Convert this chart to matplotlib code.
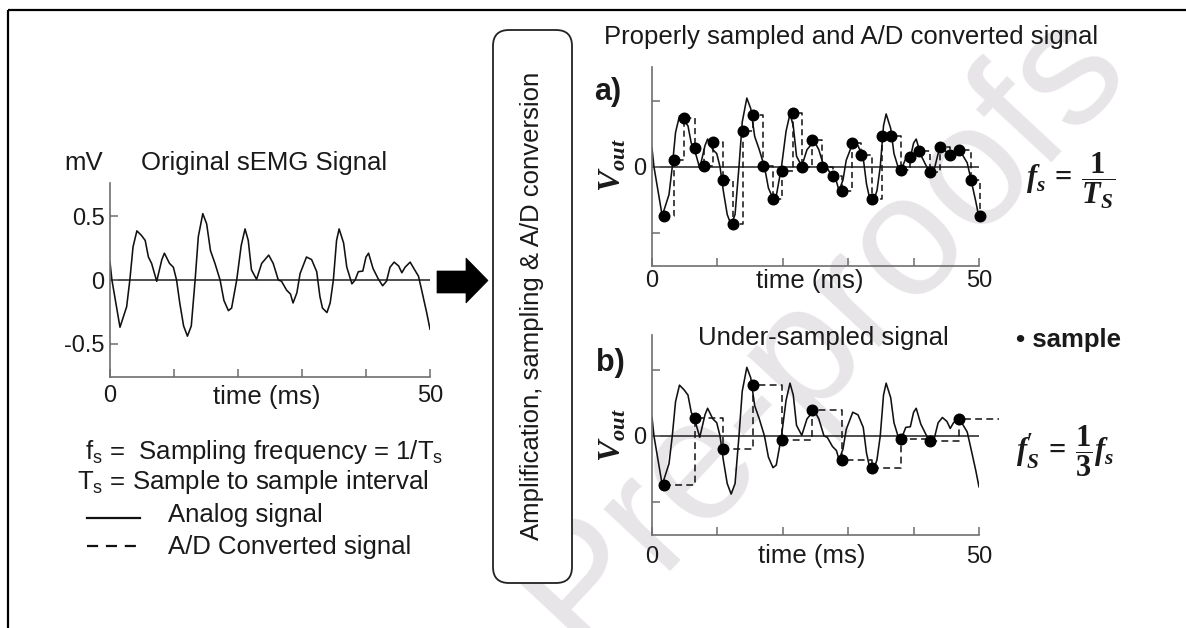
import matplotlib
matplotlib.use("Agg")
import matplotlib.pyplot as plt
from matplotlib.patches import FancyBboxPatch, Polygon

# ---------------- data ----------------
sig_t = [0, 0.3, 1.56, 2.6, 3.1, 3.6, 4.2, 4.9, 5.5, 6.0,
         6.5, 7.3, 8.1, 8.5, 9.3, 9.9, 10.4, 10.9, 11.5, 12.1,
         12.7, 13.3, 13.8, 14.5, 15.1, 15.7, 16.4, 17.2, 17.8, 18.5,
         19.0, 19.8, 20.5, 21.1, 21.6, 22.1, 22.9, 23.7, 24.8, 25.5,
         26.3, 26.8, 27.6, 28.2, 28.6, 29.2, 29.7, 30.7, 31.5, 32.3,
         32.8, 33.2, 33.9, 34.4, 34.9, 35.4, 35.8, 36.5, 37.0, 37.8,
         38.3, 38.8, 39.5, 40.0, 40.4, 41.1, 41.9, 42.6, 43.2, 43.75,
         44.4, 45.1, 45.6, 46.1, 46.9, 47.6, 48.2, 48.7, 49.5, 50]
sig_v = [0.14, 0.0, -0.37, -0.21, 0.0, 0.26, 0.385, 0.35, 0.31, 0.18,
         0.13, -0.01, 0.16, 0.21, 0.13, 0.10, 0.0, -0.18, -0.36, -0.44,
         -0.36, 0.0, 0.34, 0.52, 0.44, 0.23, 0.13, 0.0, -0.16, -0.24,
         -0.22, 0.0, 0.27, 0.40, 0.31, 0.08, 0.005, 0.13, 0.195, 0.13,
         0.0, -0.01, -0.08, -0.11, -0.18, -0.10, 0.05, 0.18, 0.16, 0.065,
         -0.13, -0.22, -0.255, -0.18, 0.0, 0.31, 0.40, 0.29, 0.10, -0.03,
         0.0, 0.065, 0.07, 0.18, 0.21, 0.09, 0.01, -0.045, -0.01, 0.10,
         0.14, 0.11, 0.057, 0.10, 0.14, 0.08, 0.03, -0.08, -0.26, -0.385]

samp_t = [1.9, 3.4, 4.9, 6.5, 7.9, 9.4, 10.8, 12.4, 13.9, 15.4, 16.9,
          18.5, 19.9, 21.5, 23.0, 24.5, 26.0, 27.6, 29.1, 30.6, 32.0,
          33.6, 35.1, 36.5, 38.0, 39.4, 40.9, 42.5, 44.1, 45.5, 47.0,
          48.8, 50.1]
samp_v = [-0.37, 0.05, 0.37, 0.14, 0.01, 0.19, -0.10, -0.43, 0.27, 0.39, 0.005,
          -0.24, -0.03, 0.41, 0.0, 0.20, 0.0, -0.07, -0.18, 0.18, 0.09,
          -0.24, 0.23, 0.23, -0.025, 0.075, 0.12, -0.04, 0.15, 0.09, 0.13,
          -0.10, -0.37]

under_t = samp_t[::3]          # every third sample (f's = fs/3)
under_v = samp_v[::3]
hold_end_t = 53.0              # last held value runs past the axis

x_ticks = [0, 10, 20, 30, 40, 50]
x_ticklabels = ["0", "", "", "", "", "50"]
y_ticks = [-0.5, 0, 0.5]
left_yticklabels = ["-0.5", "0", "0.5"]
right_yticklabels = ["", "0", ""]

# ---------------- style ----------------
W, H = 1186, 628
plt.rcParams["font.family"] = ["Liberation Sans", "DejaVu Sans"]
plt.rcParams["mathtext.fontset"] = "custom"
plt.rcParams["mathtext.rm"] = "Liberation Sans"
plt.rcParams["mathtext.it"] = "Liberation Sans:italic"
plt.rcParams["mathtext.sf"] = "Liberation Sans"
plt.rcParams["mathtext.bf"] = "Liberation Serif:bold"
plt.rcParams["mathtext.bfit"] = "Liberation Serif:italic:bold"

TXT = "#1a1a1a"
FS = 18.5
AX_C = "#6e6e6e"

fig = plt.figure(figsize=(W / 100, H / 100), dpi=100)
fig.patch.set_facecolor("white")


def px_axes(x0, y0, x1, y1):
    return fig.add_axes([x0 / W, 1 - y1 / H, (x1 - x0) / W, (y1 - y0) / H])


ov = px_axes(0, 0, W, H)
ov.set_xlim(0, W)
ov.set_ylim(H, 0)
ov.axis("off")
ov.set_zorder(0)

# watermark
ov.text(822, 328, "Pre-proofs", rotation=47, fontsize=124, color="#e8e5e8",
        ha="center", va="center", rotation_mode="anchor", zorder=0)


def style(ax, ylabels, ylim, xpad):
    ax.set_zorder(2)
    ax.patch.set_alpha(0)
    ax.set_xlim(0, 50)
    ax.set_ylim(*ylim)
    for s in ["top", "right"]:
        ax.spines[s].set_visible(False)
    for s in ["left", "bottom"]:
        ax.spines[s].set_color(AX_C)
        ax.spines[s].set_linewidth(1.2)
    ax.set_xticks(x_ticks)
    ax.set_xticklabels(x_ticklabels)
    ax.set_yticks(y_ticks)
    ax.set_yticklabels(ylabels)
    ax.tick_params(direction="in", length=6, width=1.1, color=AX_C,
                   labelsize=17, labelcolor=TXT)
    ax.tick_params(axis="x", pad=xpad)
    ax.tick_params(axis="y", pad=4)
    ax.axhline(0, color="#303030", lw=1.2, zorder=1)
    ax.plot(sig_t, sig_v, color="#111111", lw=1.15, zorder=2)


# left: original signal
axL = px_axes(110, 183, 430, 377)
style(axL, left_yticklabels, (-0.76, 0.76), 6)

# a) properly sampled
axA = px_axes(652, 67, 979, 266)
style(axA, right_yticklabels, (-0.75, 0.755), 3)
axA.plot(samp_t, samp_v, drawstyle="steps-post", color="#111111", lw=1.1,
         ls=(0, (4, 2.5)), zorder=3, clip_on=False)
axA.plot(samp_t, samp_v, "o", color="#000000", ms=7.6, zorder=4, clip_on=False)

# b) under-sampled
axB = px_axes(652, 335, 979, 535)
style(axB, right_yticklabels, (-0.75, 0.765), 8)
axB.plot(under_t + [hold_end_t], under_v + [under_v[-1]], drawstyle="steps-post",
         color="#111111", lw=1.1, ls=(0, (4.5, 2.8)), zorder=3, clip_on=False)
axB.plot(under_t, under_v, "o", color="#000000", ms=7.6, zorder=4, clip_on=False)

# ---------------- annotations (pixel coordinates) ----------------
ov.text(103, 163, "mV", ha="right", va="center", fontsize=FS, color=TXT)
ov.text(141, 163, "Original sEMG Signal", ha="left", va="center", fontsize=FS, color=TXT)
ov.text(267, 397, "time (ms)", ha="center", va="center", fontsize=FS, color=TXT)

ov.text(85, 452, r"f$_\mathrm{s}$ =  Sampling frequency = 1/T$_\mathrm{s}$",
        ha="left", va="center", fontsize=FS, color=TXT)
ov.text(77, 482, r"T$_\mathrm{s}$ = Sample to sample interval",
        ha="left", va="center", fontsize=FS, color=TXT)
ov.plot([87, 140], [518, 518], color="#111111", lw=1.6)
ov.text(168, 515, "Analog signal", ha="left", va="center", fontsize=FS, color=TXT)
ov.plot([87, 140], [546, 546], color="#111111", lw=1.6, ls=(0, (5, 3.5)))
ov.text(168, 547, "A/D Converted signal", ha="left", va="center", fontsize=FS, color=TXT)

# arrow
ov.add_patch(Polygon([(437, 271), (466, 271), (466, 258), (488, 280.5),
                      (466, 303), (466, 293), (437, 293)],
                     closed=True, facecolor="black", edgecolor="black", lw=0.5))

# process box
ov.add_patch(FancyBboxPatch((493, 30), 79, 553,
                            boxstyle="round,pad=0,rounding_size=16",
                            facecolor="white", edgecolor="#222222", lw=1.3, zorder=2))
ov.text(532, 306, "Amplification, sampling & A/D conversion", rotation=90,
        ha="center", va="center", fontsize=FS, color=TXT, zorder=3)

# right side texts
ov.text(851, 37, "Properly sampled and A/D converted signal", ha="center",
        va="center", fontsize=FS, color=TXT)
ov.text(608, 92, "a)", ha="center", va="center", fontsize=22, fontweight="bold", color=TXT)
ov.text(610, 363, "b)", ha="center", va="center", fontsize=22, fontweight="bold", color=TXT)
vout = r"$\mathbfit{V}_{\mathbfit{out}}$"
ov.text(613, 165, vout, rotation=90, ha="center", va="center", fontsize=23, color=TXT)
ov.text(613, 435, vout, rotation=90, ha="center", va="center", fontsize=23, color=TXT)
ov.text(810, 281, "time (ms)", ha="center", va="center", fontsize=FS, color=TXT)
ov.text(812, 556, "time (ms)", ha="center", va="center", fontsize=FS, color=TXT)
ov.text(823, 338, "Under-sampled signal", ha="center", va="center", fontsize=FS, color=TXT)
ov.text(1016, 340, "\u2022 sample", ha="left", va="center", fontsize=FS,
        fontweight="bold", color=TXT)

ov.text(1026, 181, r"$\mathbfit{f}_{\mathbfit{s}}\,\mathbf{=}\,\dfrac{\mathbf{1}}{\mathbfit{T}_{\mathbfit{S}}}$",
        ha="left", va="center", fontsize=22, color=TXT)
ov.text(1016, 451, "$\\mathbfit{f}^{\\mathbf{\u2032}}_{\\mathbfit{S}}\\,\\mathbf{=}\\,\\dfrac{\\mathbf{1}}{\\mathbf{3}}\\mathbfit{f}_{\\mathbfit{s}}$",
        ha="left", va="center", fontsize=22, color=TXT)

# outer frame (top and left edges)
ov.plot([8, W], [10, 10], color="black", lw=1.6, solid_capstyle="butt")
ov.plot([8, 8], [10, H], color="black", lw=1.6, solid_capstyle="butt")

fig.savefig("out.png", dpi=100, facecolor="white")
